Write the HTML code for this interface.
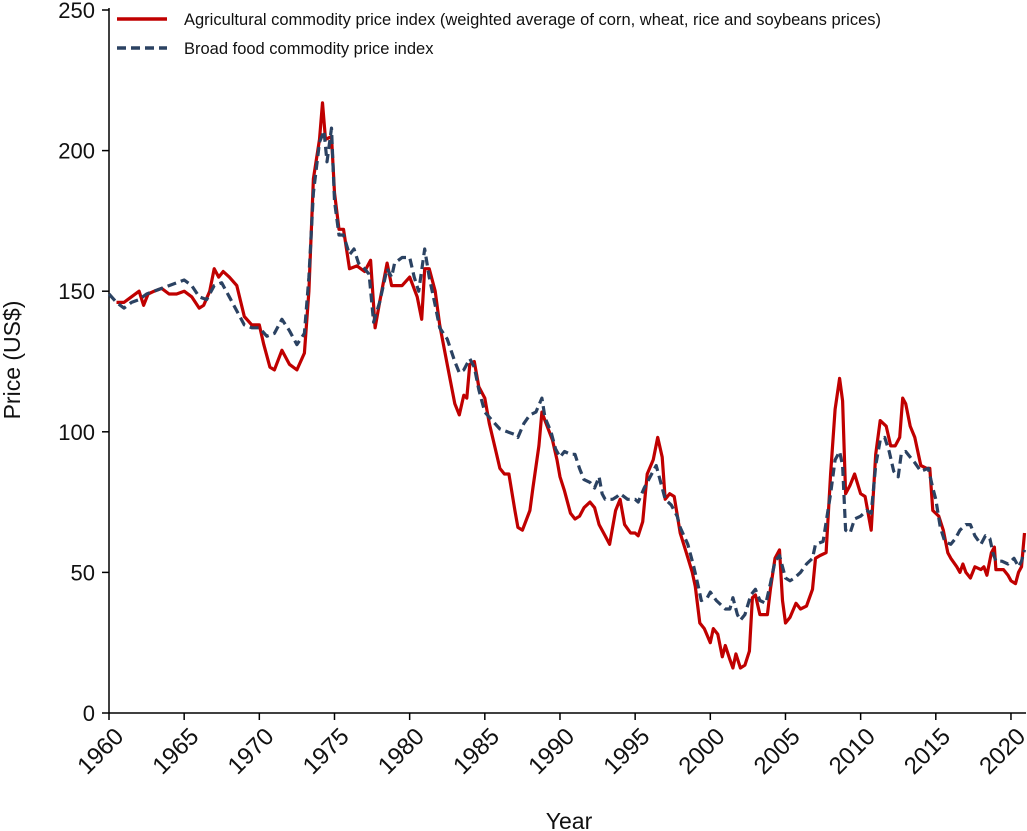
<!DOCTYPE html>
<html><head><meta charset="utf-8"><style>
html,body{margin:0;padding:0;background:#fff;}
svg{display:block;font-family:"Liberation Sans",Arial,sans-serif;}
</style></head><body>
<svg id="chart" width="1027" height="831">
<g id="axes"></g>
<g id="series"></g>
<g>
<line x1="117" y1="19" x2="167" y2="19" stroke="#c00000" stroke-width="3.5"/>
<text x="184" y="25" font-size="16.5" fill="#111">Agricultural commodity price index (weighted average of corn, wheat, rice and soybeans prices)</text>
<line x1="117" y1="48" x2="167" y2="48" stroke="#2b4262" stroke-width="3.5" stroke-dasharray="9,5"/>
<text x="184" y="54" font-size="16.5" fill="#111">Broad food commodity price index</text>
</g>
<text x="20" y="360" font-size="23" fill="#111" text-anchor="middle" transform="rotate(-90 20 360)">Price (US$)</text>
<text x="569" y="829" font-size="23" fill="#111" text-anchor="middle">Year</text>
</svg>
<script>
const xTicks=[1960,1965,1970,1975,1980,1985,1990,1995,2000,2005,2010,2015,2020];
const yTicks=[0,50,100,150,200,250];
const agriYears=[1960.5,1961,1961.5,1962,1962.3,1962.6,1963,1963.5,1964,1964.5,1965,1965.5,1966,1966.3,1966.7,1967,1967.3,1967.6,1968,1968.5,1969,1969.5,1970,1970.3,1970.7,1971,1971.5,1972,1972.5,1973,1973.3,1973.6,1974,1974.2,1974.4,1974.8,1975,1975.3,1975.6,1976,1976.5,1977,1977.4,1977.7,1978,1978.5,1978.8,1979,1979.5,1980,1980.5,1980.8,1981,1981.3,1981.7,1982,1982.5,1983,1983.3,1983.6,1983.8,1984,1984.3,1984.6,1985,1985.3,1985.7,1986,1986.3,1986.6,1987,1987.2,1987.5,1988,1988.2,1988.6,1988.8,1989,1989.5,1989.8,1990,1990.3,1990.7,1991,1991.3,1991.6,1992,1992.3,1992.6,1993,1993.3,1993.7,1994,1994.3,1994.7,1995,1995.2,1995.5,1995.8,1996.2,1996.5,1996.8,1997,1997.3,1997.6,1998,1998.4,1998.8,1999,1999.3,1999.6,2000,2000.2,2000.5,2000.8,2001,2001.3,2001.5,2001.7,2002,2002.3,2002.6,2002.8,2003,2003.3,2003.8,2004,2004.3,2004.6,2004.8,2005,2005.3,2005.7,2006,2006.4,2006.8,2007,2007.3,2007.7,2008,2008.3,2008.6,2008.8,2009,2009.3,2009.6,2010,2010.3,2010.7,2011,2011.3,2011.7,2012,2012.3,2012.6,2012.8,2013,2013.3,2013.6,2014,2014.4,2014.6,2014.8,2015.2,2015.5,2015.8,2016,2016.4,2016.6,2016.8,2017,2017.3,2017.6,2018,2018.2,2018.4,2018.7,2018.9,2019,2019.5,2019.8,2020,2020.3,2020.5,2020.7,2020.8,2020.9];
const agriValues=[146,146,148,150,145,149,150,151,149,149,150,148,144,145,150,158,155,157,155,152,141,138,138,131,123,122,129,124,122,128,150,190,204,217,204,205,185,172,172,158,159,157,161,137,146,160,152,152,152,155,148,140,158,158,150,138,124,110,106,113,112,124,125,116,112,103,94,87,85,85,72,66,65,72,80,95,107,104,97,90,84,79,71,69,70,73,75,73,67,63,60,72,76,67,64,64,63,68,85,90,98,91,76,78,77,64,57,50,45,32,30,25,30,28,20,24,19,16,21,16,17,22,41,42,35,35,44,55,58,40,32,34,39,37,38,44,55,56,57,85,108,119,111,78,81,85,78,77,65,92,104,102,95,95,98,112,110,102,98,88,87,87,72,70,65,57,55,52,50,53,50,48,52,51,52,49,57,59,51,51,49,47,46,50,52,58,64];
const foodYears=[1960,1960.5,1961,1961.5,1962,1962.5,1963,1963.5,1964,1964.5,1965,1965.5,1966,1966.5,1967,1967.5,1968,1968.5,1969,1969.5,1970,1970.5,1971,1971.5,1972,1972.5,1973,1973.3,1973.6,1974,1974.3,1974.5,1974.8,1975,1975.3,1975.6,1976,1976.3,1976.6,1977,1977.3,1977.6,1978,1978.5,1978.8,1979,1979.5,1980,1980.3,1980.6,1981,1981.3,1981.7,1982,1982.5,1983,1983.3,1983.6,1984,1984.3,1984.6,1985,1985.5,1986,1986.5,1987,1987.2,1987.6,1988,1988.4,1988.8,1989,1989.4,1989.7,1990,1990.3,1990.7,1991,1991.3,1991.6,1992,1992.3,1992.6,1992.8,1993,1993.5,1993.8,1994,1994.5,1995,1995.2,1995.6,1996,1996.4,1996.8,1997,1997.4,1997.8,1998,1998.5,1998.9,1999.2,1999.4,1999.8,2000,2000.4,2000.8,2001,2001.3,2001.5,2001.8,2002,2002.3,2002.7,2003,2003.3,2003.7,2004,2004.3,2004.6,2005,2005.3,2005.6,2006,2006.4,2006.8,2007,2007.5,2008,2008.3,2008.6,2008.8,2009,2009.3,2009.6,2010,2010.4,2010.7,2011,2011.3,2011.6,2011.9,2012.2,2012.5,2012.7,2013,2013.3,2013.6,2014,2014.5,2014.8,2015,2015.3,2015.6,2016,2016.3,2016.6,2017,2017.3,2017.6,2018,2018.3,2018.6,2018.8,2019,2019.4,2019.8,2020.2,2020.5,2020.7,2020.9];
const foodValues=[149,146,144,146,147,149,150,151,152,153,154,152,148,147,152,153,148,143,138,137,137,134,135,140,136,131,135,155,185,203,207,196,208,182,170,170,163,165,160,158,156,139,146,158,155,160,162,162,155,150,165,155,145,137,133,125,121,122,126,123,115,107,104,101,100,99,98,103,106,107,112,105,100,94,91,93,92,92,87,83,82,80,84,78,76,76,77,78,76,76,75,80,84,88,80,76,74,70,66,60,52,45,40,41,43,40,38,37,37,41,35,33,35,42,44,40,39,46,54,56,48,47,48,50,53,55,60,61,78,90,93,88,65,64,69,70,72,71,88,97,98,93,86,84,92,93,91,89,86,87,80,76,66,61,60,62,65,67,67,63,60,63,62,57,54,54,53,55,52,54,58];

const NS='http://www.w3.org/2000/svg';
const X0=109,X1=1026,Y0=713,Y1=10,XMIN=1960,XMAX=2021,YMAX=250;
function xs(v){return X0+(v-XMIN)/(XMAX-XMIN)*(X1-X0);}
function ys(v){return Y0-v/YMAX*(Y0-Y1);}
function mk(tag,attrs,parent){const e=document.createElementNS(NS,tag);for(const k in attrs)e.setAttribute(k,attrs[k]);parent.appendChild(e);return e;}
const axes=document.getElementById('axes');
const ax=mk('line',{x1:X0,y1:Y0,x2:X1,y2:Y0,stroke:'#000','stroke-width':1.5},axes);


const ay=mk('line',{x1:X0,y1:Y0,x2:X0,y2:Y1-2,stroke:'#000','stroke-width':1.5},axes);


xTicks.forEach(t=>{
  const x=xs(t);
  const l=mk('line',{x1:x,y1:Y0,x2:x,y2:Y0+7,stroke:'#000','stroke-width':1.5},axes);
  
  
  const tx=mk('text',{x:x+4,y:Y0+13,'font-size':24,fill:'#111','text-anchor':'end',transform:`rotate(-45 ${x+4} ${Y0+13})`,'dominant-baseline':'hanging'},axes);
  tx.textContent=t;
  
  
});
yTicks.forEach(t=>{
  const y=ys(t);
  const l=mk('line',{x1:X0-7,y1:y,x2:X0,y2:y,stroke:'#000','stroke-width':1.5},axes);
  
  
  const tx=mk('text',{x:X0-14,y:y+8,'font-size':22,fill:'#111','text-anchor':'end'},axes);
  tx.textContent=t;
  
  
});
const series=document.getElementById('series');
function path(xsArr,vals){const n=Math.min(xsArr.length,vals.length);let d='';for(let i=0;i<n;i++)d+=(i?'L':'M')+xs(xsArr[i]).toFixed(1)+','+ys(vals[i]).toFixed(1);return d;}
const pa=mk('path',{d:path(agriYears,agriValues),fill:'none',stroke:'#c00000','stroke-width':3.2,'stroke-linejoin':'round'},series);


const pf=mk('path',{d:path(foodYears,foodValues),fill:'none',stroke:'#2b4262','stroke-width':3.2,'stroke-dasharray':'9,5','stroke-linejoin':'round'},series);


</script>
</body></html>
